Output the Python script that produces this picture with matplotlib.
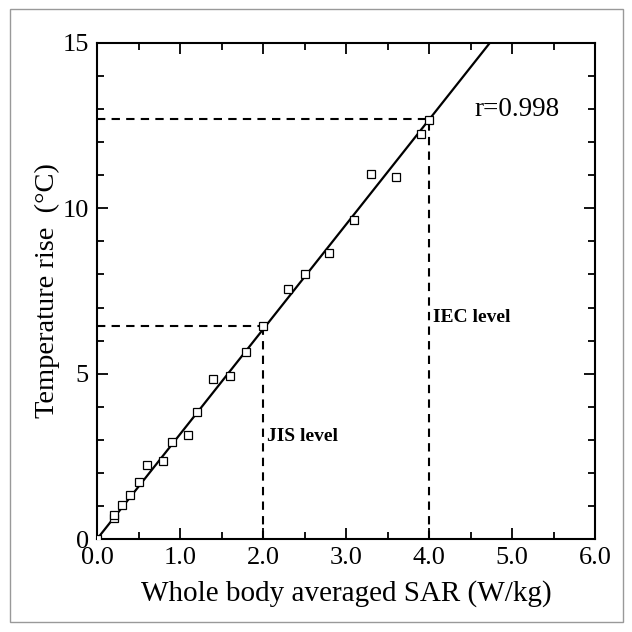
import matplotlib
matplotlib.use("Agg")
import matplotlib.pyplot as plt
from matplotlib.patches import Rectangle
from matplotlib.ticker import MultipleLocator
from matplotlib.transforms import ScaledTranslation

# Measured data points (SAR in W/kg, temperature rise in deg C)
sar = [0.0, 0.2, 0.2, 0.3, 0.4, 0.5, 0.6, 0.8, 0.9, 1.1, 1.2, 1.4, 1.6,
       1.8, 2.0, 2.3, 2.5, 2.8, 3.1, 3.3, 3.6, 3.9, 4.0]
temp_rise = [0.0, 0.63, 0.73, 1.04, 1.33, 1.73, 2.24, 2.35, 2.93, 3.15, 3.83,
             4.83, 4.94, 5.66, 6.44, 7.56, 8.02, 8.65, 9.65, 11.04, 10.94,
             12.24, 12.67]

# Regression line
fit_slope = 3.17
fit_x = [0.0, 15 / fit_slope]

# Reference levels
levels = ["JIS level", "IEC level"]
level_sar = [2.0, 4.0]
level_temp = [6.45, 12.7]
label_y = [3.1, 6.7]

plt.rcParams['font.family'] = ['Liberation Serif', 'DejaVu Serif']

fig = plt.figure(figsize=(6.32, 6.32), dpi=100)
fig.patches.append(Rectangle((0.016, 0.016), 0.969, 0.969, transform=fig.transFigure,
                             fill=False, edgecolor="#999999", linewidth=1.0))
ax = fig.add_axes([0.1535, 0.147, 0.788, 0.785])

ax.plot(fit_x, [fit_slope * x for x in fit_x], color="black", linewidth=1.6, zorder=3)
ax.plot(sar, temp_rise, linestyle="none", marker="s", markersize=5.5,
        markerfacecolor="white", markeredgecolor="black", markeredgewidth=0.9, zorder=4)

for name, xs, ys, ly in zip(levels, level_sar, level_temp, label_y):
    ax.plot([0, xs], [ys, ys], color="black", linestyle=(0, (4, 3)), linewidth=1.5)
    ax.plot([xs, xs], [0, ys], color="black", linestyle=(0, (4, 3)), linewidth=1.5)
    ax.text(xs + 0.05, ly, name, fontsize=14, fontweight="bold", ha="left", va="center")

ax.text(4.55, 13.0, "r=0.998", fontsize=19.5, ha="left", va="center")

ax.set_xlim(0, 6)
ax.set_ylim(0, 15)
ax.xaxis.set_major_locator(MultipleLocator(1))
ax.xaxis.set_minor_locator(MultipleLocator(0.5))
ax.yaxis.set_major_locator(MultipleLocator(5))
ax.yaxis.set_minor_locator(MultipleLocator(1))
ax.set_xticks([0, 1, 2, 3, 4, 5, 6])
ax.set_xticklabels(["0.0", "1.0", "2.0", "3.0", "4.0", "5.0", "6.0"])
ax.tick_params(which="both", direction="in", top=True, right=True, width=1.3,
               labelsize=19)
ax.tick_params(axis="x", pad=6)
ax.tick_params(axis="y", pad=6)
ax.tick_params(which="major", length=8)
ax.tick_params(which="minor", length=5)
for s in ax.spines.values():
    s.set_linewidth(1.5)

ax.set_xlabel("Whole body averaged SAR (W/kg)", fontsize=21, labelpad=8)
ax.set_ylabel("Temperature rise  (\u00b0C)", fontsize=20.5, labelpad=2)

# nudge the y "0" label up a little so it clears "0.0"
fig.canvas.draw()
ylab0 = ax.yaxis.get_major_ticks()[0].label1
ylab0.set_transform(ylab0.get_transform() + ScaledTranslation(0, 5 / 72, fig.dpi_scale_trans))

fig.savefig("out.png", dpi=100)
